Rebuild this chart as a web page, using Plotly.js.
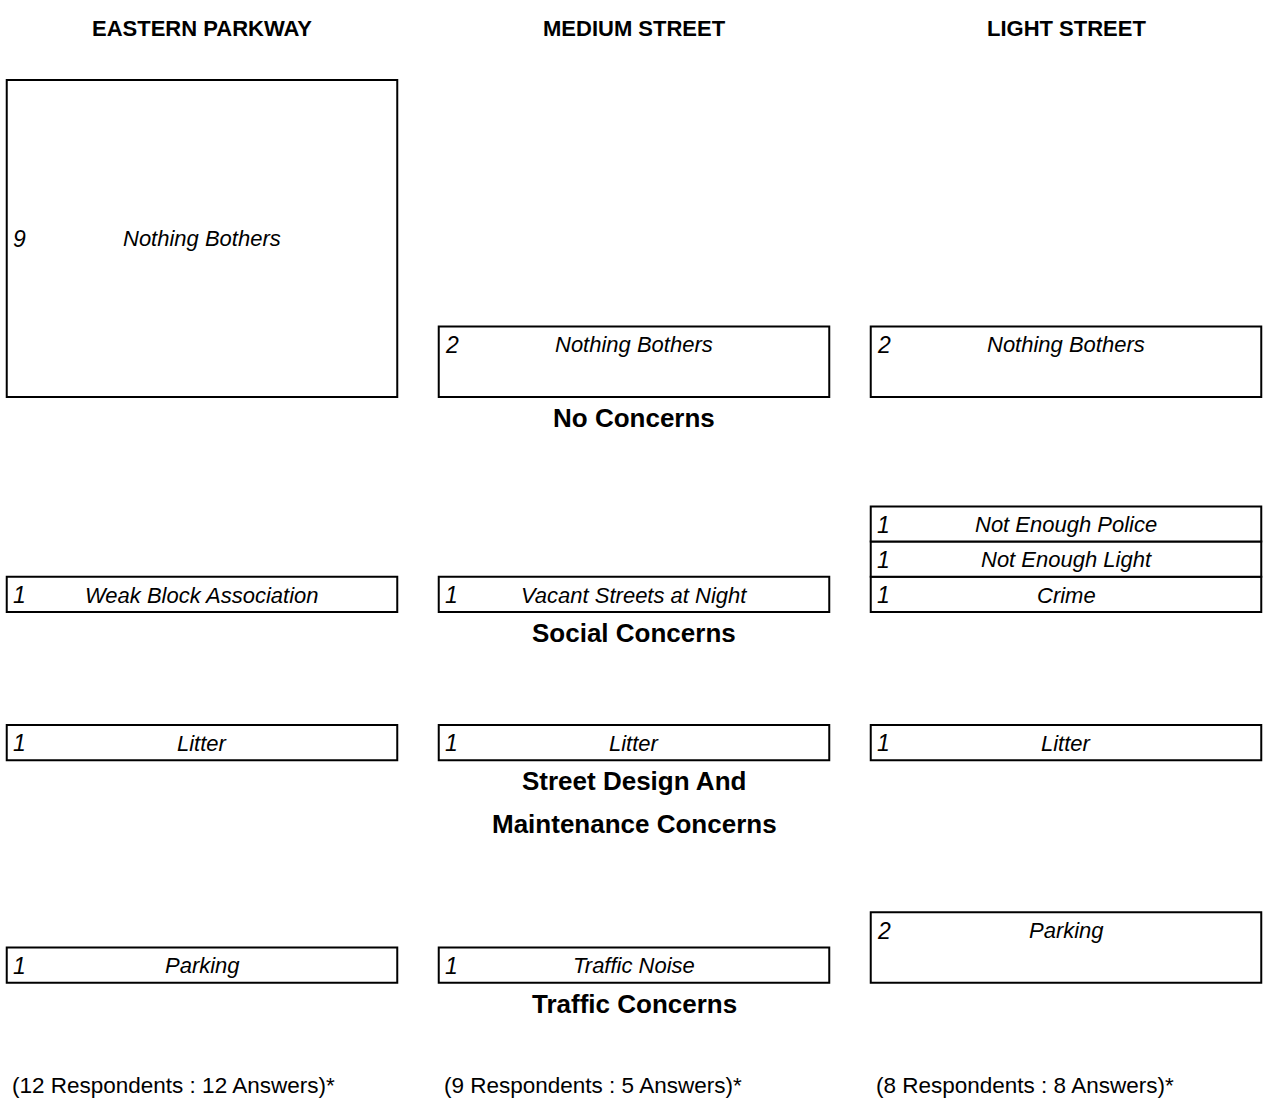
<!DOCTYPE html>
<html>
<head>
<meta charset="utf-8">
<script src="https://cdn.plot.ly/plotly-3.0.1.min.js"></script>
<style>
  body { margin: 0; background: #fff; }
  #chart { width: 1265px; height: 1109px; }
</style>
</head>
<body>
<div id="chart"></div>
<script>
const streets = ['EASTERN PARKWAY', 'MEDIUM STREET', 'LIGHT STREET'];
const concernGroups = [['No Concerns'], ['Social Concerns'], ['Street Design And', 'Maintenance Concerns'], ['Traffic Concerns']];
const respondents = ['(12 Respondents : 12 Answers)*', '(9 Respondents : 5 Answers)*', '(8 Respondents : 8 Answers)*'];

// one entry per answer box, bottom-up inside each stack
const answerStreet = [0, 0, 0, 0, 1, 1, 1, 1, 2, 2, 2, 2, 2, 2];
const answerGroup = [0, 1, 2, 3, 0, 1, 2, 3, 0, 1, 1, 1, 2, 3];
const answerCount = [9, 1, 1, 1, 2, 1, 1, 1, 2, 1, 1, 1, 1, 2];
const answerLabel = ['Nothing Bothers', 'Weak Block Association', 'Litter', 'Parking',
                     'Nothing Bothers', 'Vacant Streets at Night', 'Litter', 'Traffic Noise',
                     'Nothing Bothers', 'Crime', 'Not Enough Light', 'Not Enough Police', 'Litter', 'Parking'];

// page geometry
const W = 1265, H = 1109;
const UNIT_PX = 35.2;              // pixels per answer
const COL_PX = 432;                // pixels between street columns
const FIRST_COL_PX = 202;
const BAR_W = 0.904;
const groupBase = [20.23, 14.12, 9.91, 3.59];   // stack baselines, in answers above page bottom

const SANS = '"Liberation Sans", Arial, Helvetica, sans-serif';

// stack the boxes
const filled = {};
const bases = answerCount.map((n, i) => {
    const key = answerStreet[i] + '-' + answerGroup[i];
    const b = groupBase[answerGroup[i]] + (filled[key] || 0);
    filled[key] = (filled[key] || 0) + n;
    return b;
});

const bars = {
    type: 'bar',
    x: answerStreet,
    y: answerCount,
    base: bases,
    width: BAR_W,
    marker: { color: '#ffffff', line: { color: '#000', width: 2 } },
    hoverinfo: 'skip',
    showlegend: false
};

const annotations = [];

answerCount.forEach((n, i) => {
    const top = bases[i] + n;
    const yText = n > 2 ? bases[i] + n / 2 : top - 0.52;
    annotations.push({
        x: answerStreet[i], y: yText, xref: 'x', yref: 'y',
        text: '<i>' + answerLabel[i] + '</i>', showarrow: false,
        font: { family: SANS, size: 22, color: '#000' }
    });
    annotations.push({
        x: answerStreet[i] - BAR_W / 2, y: yText, xref: 'x', yref: 'y',
        xanchor: 'left', xshift: 4,
        text: '<i>' + n + '</i>', showarrow: false,
        font: { family: SANS, size: 23, color: '#000' }
    });
});

streets.forEach((s, c) => {
    annotations.push({
        x: c, y: 1 - 28 / H, xref: 'x', yref: 'paper', yanchor: 'middle',
        text: '<b>' + s + '</b>', showarrow: false,
        font: { family: SANS, size: 22, color: '#000' }
    });
    annotations.push({
        x: c - BAR_W / 2, y: 1 - 1085 / H, xref: 'x', yref: 'paper',
        xanchor: 'left', yanchor: 'middle', xshift: 3,
        text: respondents[c], showarrow: false,
        font: { family: SANS, size: 22.5, color: '#000' }
    });
});

concernGroups.forEach((lines, g) => {
    lines.forEach((line, k) => {
        annotations.push({
            x: 1, y: groupBase[g], xref: 'x', yref: 'y', yanchor: 'top',
            yshift: -(4 + 43 * k),
            text: '<b>' + line + '</b>', showarrow: false,
            font: { family: SANS, size: 26, color: '#000' }
        });
    });
});

const layout = {
    width: W, height: H,
    margin: { l: 0, r: 0, t: 0, b: 0 },
    paper_bgcolor: '#ffffff', plot_bgcolor: '#ffffff',
    xaxis: { range: [-FIRST_COL_PX / COL_PX, (W - FIRST_COL_PX) / COL_PX], visible: false, fixedrange: true },
    yaxis: { range: [0, H / UNIT_PX], visible: false, fixedrange: true },
    annotations: annotations,
    showlegend: false
};

Plotly.newPlot('chart', [bars], layout, { displayModeBar: false, staticPlot: true });
</script>
</body>
</html>
